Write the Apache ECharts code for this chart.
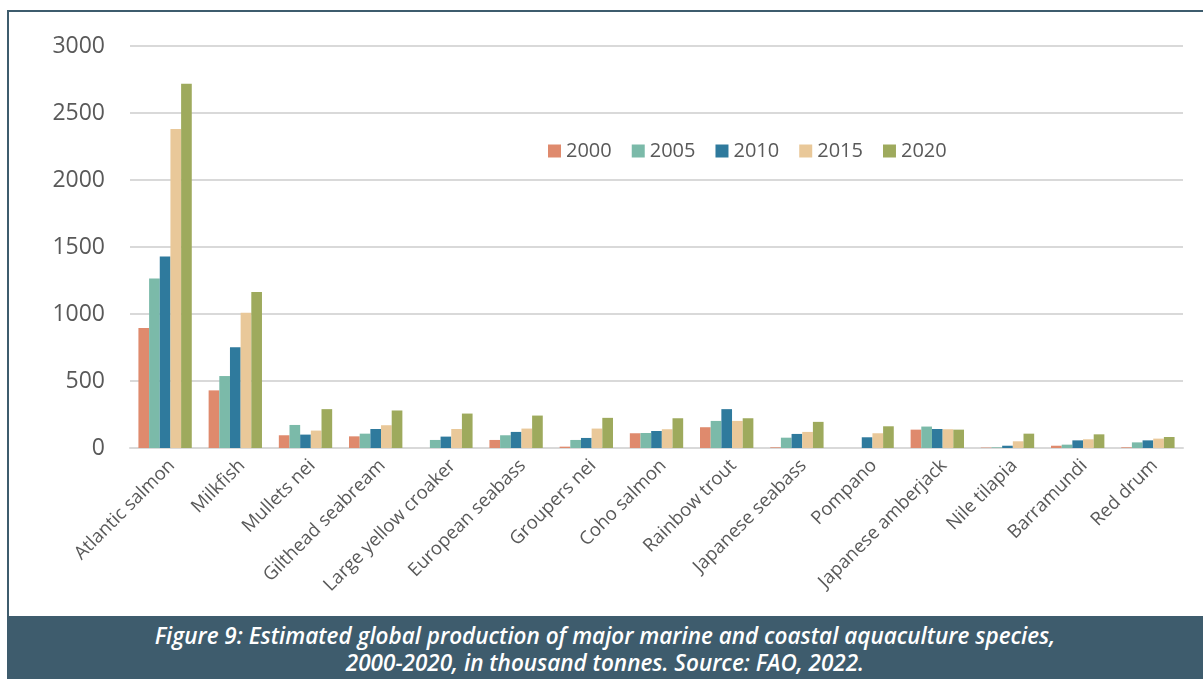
<!DOCTYPE html>
<html>
<head>
<meta charset="utf-8">
<script src="https://cdn.jsdelivr.net/npm/echarts@6/dist/echarts.min.js"></script>
<style>
  html, body { margin: 0; padding: 0; background: #ffffff; }
  #frame {
    position: absolute; left: 7px; top: 10px; width: 1196px; height: 669px;
    border-left: 2px solid #3e5c6d; border-top: 2px solid #3e5c6d; box-sizing: border-box;
  }
  #chart { position: absolute; left: 0; top: 0; width: 1203px; height: 617px; }
  #caption {
    position: absolute; left: 7px; top: 616px; width: 1196px; height: 63px;
    background: #3e5c6d; color: #ffffff;
    font-family: "Open Sans", sans-serif; font-style: italic; font-weight: 600;
    font-size: 22.5px; line-height: 27px; text-align: center;
    box-sizing: border-box; padding-top: 6px;
  }
</style>
</head>
<body>
<div id="frame"></div>
<div id="chart"></div>
<div id="caption">Figure 9: Estimated global production of major marine and coastal aquaculture species,<br>2000-2020, in thousand tonnes. Source: FAO, 2022.</div>
<script>
// Species, thousand tonnes per reporting year
const species = ['Atlantic salmon', 'Milkfish', 'Mullets nei', 'Gilthead seabream', 'Large yellow croaker',
  'European seabass', 'Groupers nei', 'Coho salmon', 'Rainbow trout', 'Japanese seabass',
  'Pompano', 'Japanese amberjack', 'Nile tilapia', 'Barramundi', 'Red drum'];
const years = ['2000', '2005', '2010', '2015', '2020'];
const y2000 = [895, 430, 95, 87, 0, 60, 10, 110, 155, 5, 0, 137, 3, 17, 5];
const y2005 = [1264, 537, 172, 107, 60, 95, 60, 112, 202, 77, 0, 160, 5, 25, 42];
const y2010 = [1430, 751, 100, 142, 85, 120, 75, 127, 290, 105, 80, 142, 17, 57, 57];
const y2015 = [2380, 1010, 130, 170, 142, 145, 145, 140, 202, 120, 110, 140, 50, 65, 70];
const y2020 = [2718, 1164, 290, 280, 257, 242, 225, 222, 222, 195, 162, 137, 107, 102, 82];
const yTicks = [0, 500, 1000, 1500, 2000, 2500, 3000];

const colors = ['#df8a6d', '#7bbaa9', '#2f7a9d', '#e9c899', '#9eaa5d'];
const seriesData = [y2000, y2005, y2010, y2015, y2020];

const chart = echarts.init(document.getElementById('chart'), null, { renderer: 'canvas' });
chart.setOption({
  animation: false,
  color: colors,
  textStyle: { fontFamily: '"Open Sans", sans-serif' },
  legend: {
    data: years,
    left: 543, top: 136,
    itemWidth: 13, itemHeight: 13, itemGap: 20,
    icon: 'rect',
    textStyle: { fontSize: 20, color: '#595959', fontFamily: '"Open Sans", sans-serif' }
  },
  grid: { left: 130, right: 20, top: 46, bottom: 169, containLabel: false },
  xAxis: {
    type: 'category',
    data: species,
    axisLine: { lineStyle: { color: '#d9d9d9', width: 2 } },
    axisTick: { show: false },
    axisLabel: {
      rotate: 45, interval: 0, margin: 8,
      verticalAlign: 'top',
      fontSize: 18.5, color: '#595959', fontFamily: '"Open Sans", sans-serif'
    }
  },
  yAxis: {
    type: 'value',
    min: yTicks[0], max: yTicks[yTicks.length - 1], interval: 500,
    axisLine: { show: false },
    axisTick: { show: false },
    splitLine: { lineStyle: { color: '#d9d9d9', width: 2 } },
    axisLabel: {
      fontSize: 23, color: '#595959', margin: 25, fontFamily: '"Open Sans", sans-serif',
      formatter: v => String(v)
    }
  },
  series: years.map((y, i) => ({
    name: y,
    type: 'bar',
    data: seriesData[i],
    barGap: '0%',
    barCategoryGap: '24%'
  }))
});
</script>
</body>
</html>
